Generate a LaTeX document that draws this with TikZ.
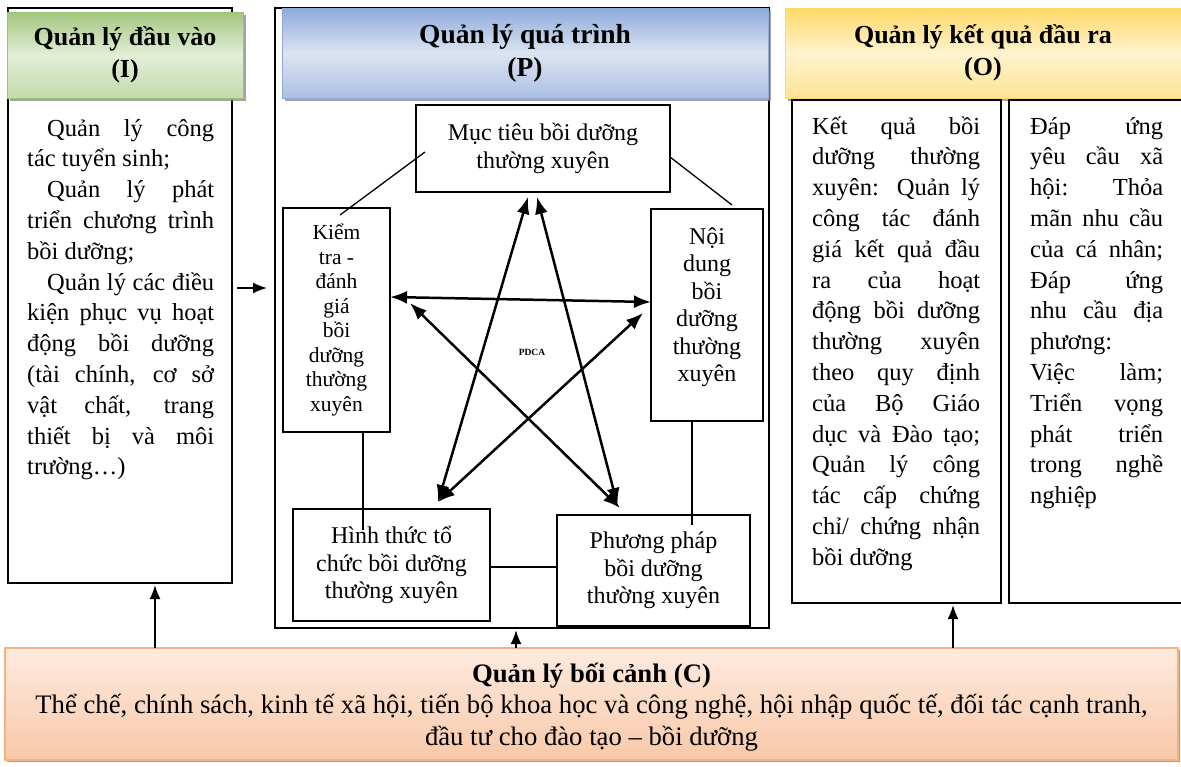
\documentclass[tikz,border=0pt]{standalone}
\usepackage{fontspec}
\setmainfont{Liberation Serif}
\usepackage{xcolor}
\usepackage{tikz}
\usetikzlibrary{positioning, arrows.meta, shadows}

\definecolor{inGreen}{HTML}{A4C67F}
\definecolor{inGreenMid}{HTML}{E2EED6}
\definecolor{inGreenLow}{HTML}{C3DBAB}
\definecolor{inGreenLine}{HTML}{9CC17A}
\definecolor{prBlue}{HTML}{8EAADB}
\definecolor{prBlueMid}{HTML}{DCE4F2}
\definecolor{prBlueLow}{HTML}{ABBFE4}
\definecolor{outGold}{HTML}{FFD866}
\definecolor{outGoldMid}{HTML}{FFF3CF}
\definecolor{outGoldLow}{HTML}{FFE394}
\definecolor{ctxTop}{HTML}{FDEBDF}
\definecolor{ctxLow}{HTML}{F8C8A8}
\definecolor{ctxLine}{HTML}{F4B183}

\begin{document}
\begin{tikzpicture}[x=1pt,y=-1pt,
    >={Latex[length=17pt,width=13pt]},
    colframe/.style={draw,line width=1.6pt,rectangle,outer sep=0pt,inner sep=0pt},
    head/.style={rectangle,outer sep=0pt,align=center,line width=1pt,
      font=\fontsize{26}{32}\selectfont\bfseries,
      drop shadow={shadow xshift=3pt,shadow yshift=-3pt,fill=black!45,opacity=.8}},
    stage/.style={draw,line width=1.4pt,rectangle,outer sep=0pt,align=center,
      font=\fontsize{24}{27.5}\selectfont},
    coltext/.style={anchor=base west,inner sep=0pt,align=justify,
      font=\fontsize{24.5}{30.8}\selectfont},
    link/.style={line width=1.3pt},
    pdca/.style={<->,line width=2.5pt},
    feed/.style={->,line width=1.8pt,>={Latex[length=14pt,width=11pt]}}]
\useasboundingbox (0,0) rectangle (1181,766);

\node[colframe,minimum width=224pt,minimum height=575pt] (inbox) at (120,295.5) {};
\node[head,draw=inGreenLine,top color=inGreen,bottom color=inGreenLow,middle color=inGreenMid,
  minimum width=236pt,minimum height=86pt] (inhead) at (125,55) {Quản lý đầu vào\\(I)};
\node[coltext,text width=187pt] (intext) at (27,136) {\hspace*{20pt}Quản lý công\linebreak tác tuyển sinh;\par
  \hspace*{20pt}Quản lý phát\linebreak triển chương trình\linebreak bồi dưỡng;\par
  \hspace*{20pt}Quản lý các điều\linebreak kiện phục vụ hoạt\linebreak động bồi dưỡng\linebreak (tài chính, cơ sở\linebreak vật chất, trang\linebreak thiết bị và môi\linebreak trường…)};

\node[colframe,minimum width=494pt,minimum height=620pt] (pbox) at (522,318) {};
\node[head,draw=prBlue,top color=prBlue,bottom color=prBlueLow,middle color=prBlueMid,
  minimum width=486pt,minimum height=90pt,font=\fontsize{27.5}{33}\selectfont\bfseries] (phead) at (525,53) {Quản lý quá trình\\(P)};
\node[stage,minimum width=254pt,minimum height=87pt] (goal) at (543,148.5) {Mục tiêu bồi dưỡng\\thường xuyên};
\node[stage,minimum width=107pt,minimum height=224pt,font=\fontsize{21.5}{24.5}\selectfont] (check) at (336.5,320) {Kiểm\\tra -\\đánh\\giá\\bồi\\dưỡng\\thường\\xuyên};
\node[stage,minimum width=112pt,minimum height=212pt,text depth=21pt] (content) at (707,315) {Nội\\dung\\bồi\\dưỡng\\thường\\xuyên};
\node[stage,minimum width=197pt,minimum height=112pt] (form) at (391.5,565) {Hình thức tổ\\chức bồi dưỡng\\thường xuyên};
\node[stage,minimum width=193pt,minimum height=111pt] (method) at (653.5,570.5) {Phương pháp\\bồi dưỡng\\thường xuyên};
\node[font=\fontsize{9.5}{11}\selectfont\bfseries] (cyc) at (532,352) {PDCA};

\node[head,draw=outGold,top color=outGold,bottom color=outGoldLow,middle color=outGoldMid,
  minimum width=396pt,minimum height=90pt] (ohead) at (983,53) {Quản lý kết quả đầu ra\\(O)};
\node[colframe,minimum width=209pt,minimum height=503pt] (obox1) at (896.5,351.5) {};
\node[colframe,minimum width=180pt,minimum height=503pt] (obox2) [right=8pt of obox1] {};
\node[coltext,text width=168pt] (otext1) at (812,134) {Kết quả bồi\linebreak dưỡng thường\linebreak xuyên: Quản lý\linebreak công tác đánh\linebreak giá kết quả đầu\linebreak ra của hoạt\linebreak động bồi dưỡng\linebreak thường xuyên\linebreak theo quy định\linebreak của Bộ Giáo\linebreak dục và Đào tạo;\linebreak Quản lý công\linebreak tác cấp chứng\linebreak chỉ/ chứng nhận\linebreak bồi dưỡng};
\node[coltext,text width=133pt] (otext2) at (1030,134) {Đáp ứng\linebreak yêu cầu xã\linebreak hội: Thỏa\linebreak mãn nhu cầu\linebreak của cá nhân;\linebreak Đáp ứng\linebreak nhu cầu địa\linebreak phương:\par Việc làm;\linebreak Triển vọng\linebreak phát triển\linebreak trong nghề\linebreak nghiệp};

\node[rectangle,draw=ctxLine,line width=2pt,top color=ctxTop,bottom color=ctxLow,outer sep=0pt,
  minimum width=1173pt,minimum height=112pt,align=center,font=\fontsize{26.7}{31.5}\selectfont,
  text depth=0pt,
  drop shadow={shadow xshift=2pt,shadow yshift=-2pt,fill=black!45,opacity=.8}] (ctx) at (591.5,704)
  {{\fontsize{26.7}{31.5}\selectfont\bfseries Quản lý bối cảnh (C)}\\Thể chế, chính sách, kinh tế xã hội, tiến bộ khoa học và công nghệ, hội nhập quốc tế, đối tác cạnh tranh,\\đầu tư cho đào tạo – bồi dưỡng};

\path[link]
  ([xshift=9pt,yshift=-3.5pt]goal.west) edge ([xshift=3.5pt,yshift=-7pt]check.north)
  ([yshift=-8.5pt]goal.east) edge ([xshift=25pt,yshift=4pt]content.north)
  ([xshift=26.5pt]check.south) edge ([xshift=-28.5pt,yshift=-21pt]form.north)
  ([xshift=-15pt]content.south) edge ([xshift=38.5pt,yshift=-10pt]method.north)
  ([yshift=-2pt]form.east) edge ([yshift=3.5pt]method.west);

\path[pdca]
  ([xshift=-15pt,yshift=-5pt]goal.south) edge ([xshift=46.5pt,yshift=7pt]form.north)
  ([xshift=-6pt,yshift=-5pt]goal.south) edge ([xshift=-36pt,yshift=10pt]method.north)
  ([yshift=23pt]check.east) edge ([yshift=13pt]content.west)
  ([xshift=20pt,yshift=17pt]check.east) edge ([xshift=-33.5pt,yshift=7pt]method.north)
  ([xshift=-8pt,yshift=2pt]content.west) edge ([xshift=46.5pt,yshift=7pt]form.north);

\path[feed]
  ([xshift=5pt,yshift=7.5pt]inbox.east) edge ([xshift=-8pt,yshift=30pt]pbox.west)
  ([xshift=-436.5pt]ctx.north) edge ([xshift=35pt,yshift=-2pt]inbox.south)
  ([xshift=-75.5pt]ctx.north) edge ([xshift=-6pt,yshift=-2pt]pbox.south)
  ([xshift=361.5pt]ctx.north) edge ([xshift=56.5pt,yshift=-2pt]obox1.south);
\end{tikzpicture}
\end{document}
